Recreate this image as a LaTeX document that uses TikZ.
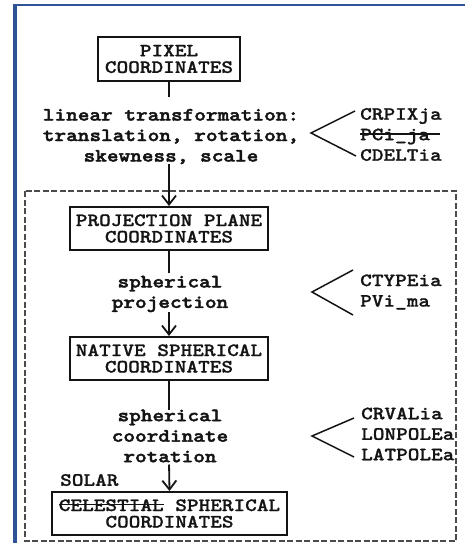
\documentclass[tikz,border=0pt]{standalone}
\usepackage{fontspec}
% Courier-like slab typewriter faces, widened to Courier proportions
\newfontfamily\cour{lmmonolt10-bold.otf}[FakeStretch=1.18, FakeBold=1.0]
\newfontfamily\courheavy{lmmonolt10-bold.otf}[FakeStretch=1.18, FakeBold=2.2]
\usetikzlibrary{arrows.meta}
\definecolor{framebl}{RGB}{46,84,150}
\definecolor{ink}{RGB}{20,20,20}
\definecolor{dashgray}{RGB}{75,75,75}
% struck-out text; optional argument lengthens the stroke past the text
\newsavebox\strikebox
\newcommand\mystrike[2][0pt]{\sbox\strikebox{#2}\rlap{\rule[0.3em]{\dimexpr\wd\strikebox+#1\relax}{1.4pt}}\usebox\strikebox}
\tikzset{
  box/.style={draw=ink, line width=2pt, text=ink, align=center, minimum height=43pt,
    inner sep=0pt, font=\cour\fontsize{18.8}{16.5}\selectfont},
  proc/.style={align=center, inner sep=0pt, text=ink,
    font=\courheavy\fontsize{18.8}{20.5}\selectfont},
  param/.style={align=left, anchor=west, inner sep=0pt, text=ink,
    font=\cour\fontsize{18.8}{20.5}\selectfont},
  flow/.style={draw=ink, line width=1.8pt},
  arr/.style={flow, -{Straight Barb[length=9pt,width=14pt]}},
  brk/.style={draw=ink, line width=1.5pt, line join=miter},
  frame/.style={dashgray, line width=1.6pt, dash pattern=on 6pt off 2.5pt}
}
\begin{document}
\begin{tikzpicture}[x=1pt, y=-1pt]
\useasboundingbox (0,0) rectangle (465,543);
% page frame
\fill[framebl] (13,4) rectangle (16.5,543);
\fill[framebl] (13,4) rectangle (465,6.5);
% dashed enclosure
\draw[frame] (25,191) rectangle (456,541);

% coordinate boxes
\node[box, minimum width=142pt] (pix) at (169,59) {PIXEL\\COORDINATES};
\node[box, minimum width=198pt] (proj) at (169,228.5) {PROJECTION PLANE\\COORDINATES};
\node[box, minimum width=198pt] (nat) at (169,358.5) {NATIVE SPHERICAL\\COORDINATES};
\node[box, minimum width=235pt] (cel) at (169.5,513.5) {\mystrike{CELESTIAL} SPHERICAL\\COORDINATES};
\node[param] (solar) at (60,480) {SOLAR};

% transformation steps
\node[proc] (lin) at (171,136.5) {linear transformation:\\translation, rotation,\\skewness, scale};
\node[proc] (sph) at (170,294) {spherical\\projection};
\node[proc] (rot) at (170,436) {spherical\\coordinate\\rotation};

% keyword groups
\node[param] (p1) at (360,134.5) {CRPIXja\\\mystrike[10pt]{PCi\_ja}\\CDELTia};
\node[param] (p2) at (360,292) {CTYPEia\\PVi\_ma};
\node[param] (p3) at (361,434) {CRVALia\\LONPOLEa\\LATPOLEa};

% flow
\draw[flow, shorten >=12pt] (pix.south) -- (pix.south |- lin.north);
\draw[arr] (pix.south |- lin.south) -- (proj.north);
\draw[flow, shorten >=3pt] (proj.south) -- (proj.south |- sph.north);
\draw[arr] (proj.south |- sph.south) -- (nat.north);
\draw[flow] (nat.south) -- (nat.south |- rot.north);
\draw[arr, shorten <=2pt] (nat.south |- rot.south) -- (cel.north);

% brackets tying keywords to each step
\draw[brk] ([shift={(-5,-23.5)}]p1.west) -- ([shift={(-49,-1.5)}]p1.west) -- ([shift={(-4,21.5)}]p1.west);
\draw[brk] ([shift={(-7,-22)}]p2.west) -- ([shift={(-48,0)}]p2.west) -- ([shift={(-7,23)}]p2.west);
\draw[brk] ([shift={(-7,-16)}]p3.west) -- ([shift={(-49,2)}]p3.west) -- ([shift={(-7,23)}]p3.west);
\end{tikzpicture}
\end{document}
